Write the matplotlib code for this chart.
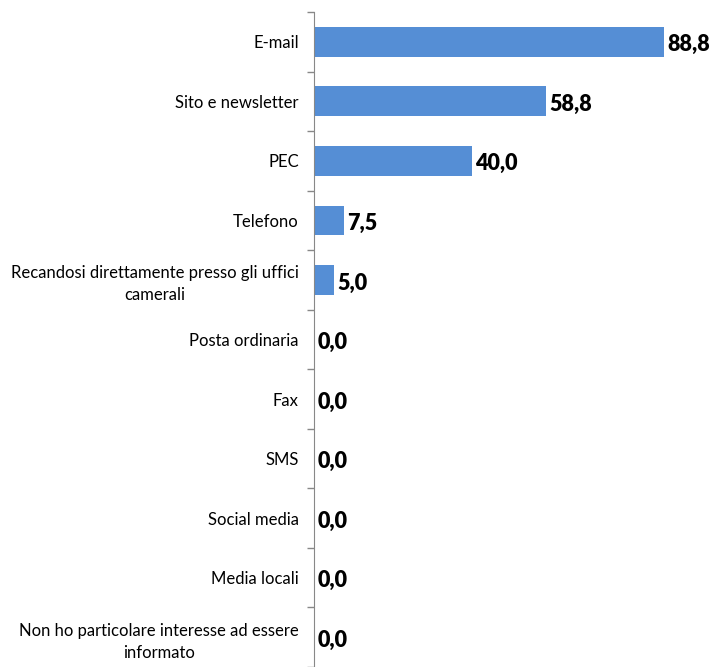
import matplotlib
matplotlib.use("Agg")
import matplotlib.pyplot as plt
import numpy as np

categories = [
    "E-mail",
    "Sito e newsletter",
    "PEC",
    "Telefono",
    "Recandosi direttamente presso gli uffici\ncamerali",
    "Posta ordinaria",
    "Fax",
    "SMS",
    "Social media",
    "Media locali",
    "Non ho particolare interesse ad essere\ninformato",
]
values = [88.8, 58.8, 40.0, 7.5, 5.0, 0.0, 0.0, 0.0, 0.0, 0.0, 0.0]

plt.rcParams["font.family"] = ["Lato", "DejaVu Sans"]

fig = plt.figure(figsize=(7.13, 6.67), dpi=100)
ax = fig.add_axes([314 / 713, 0.0, 394 / 713, 1 - 12 / 667])

n = len(categories)
y = np.arange(n)
ax.barh(y, values, height=0.5, color="#558ED5")
ax.set_ylim(n - 0.5, -0.5)
ax.set_xlim(0, 100)

for yi, v in zip(y, values):
    ax.text(v + 1.0, yi + 0.05, f"{v:.1f}".replace(".", ","), ha="left", va="center",
            fontsize=15.5, fontweight="heavy", color="black")

ax.set_yticks(y)
ax.set_yticklabels(categories, fontsize=12, multialignment="center", linespacing=1.45)
ax.tick_params(axis="y", which="major", length=0, pad=11)
ax.set_yticks(np.arange(-0.5, n, 1.0), minor=True)
ax.tick_params(axis="y", which="minor", length=5, color="#888888", width=1)

ax.set_xticks([])
for s in ["top", "right", "bottom"]:
    ax.spines[s].set_visible(False)
ax.spines["left"].set_color("#888888")

fig.savefig("out.png", dpi=100)
